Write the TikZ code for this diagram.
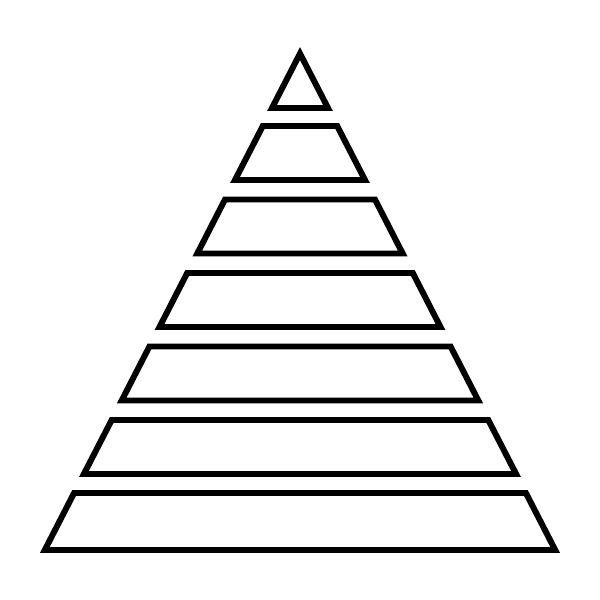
\documentclass[tikz,border=0pt]{standalone}
\tikzset{layer/.style={line width=1.7pt,line join=miter}}
\begin{document}
\begin{tikzpicture}
\useasboundingbox (0,0) rectangle (6,6);
\draw[layer] (3.00,5.464) -- (3.28,4.92) -- (2.72,4.92) -- cycle;
\draw[layer] (2.628,4.74) -- (3.372,4.74) -- (3.65,4.20) -- (2.35,4.20) -- cycle;
\draw[layer] (2.25,4.005) -- (3.75,4.005) -- (4.027,3.465) -- (1.973,3.465) -- cycle;
\draw[layer] (1.872,3.27) -- (4.128,3.27) -- (4.405,2.73) -- (1.595,2.73) -- cycle;
\draw[layer] (1.494,2.535) -- (4.506,2.535) -- (4.783,1.995) -- (1.217,1.995) -- cycle;
\draw[layer] (1.117,1.80) -- (4.883,1.80) -- (5.161,1.26) -- (0.839,1.26) -- cycle;
\draw[layer] (0.741,1.07) -- (5.259,1.07) -- (5.552,0.50) -- (0.448,0.50) -- cycle;
\end{tikzpicture}
\end{document}
